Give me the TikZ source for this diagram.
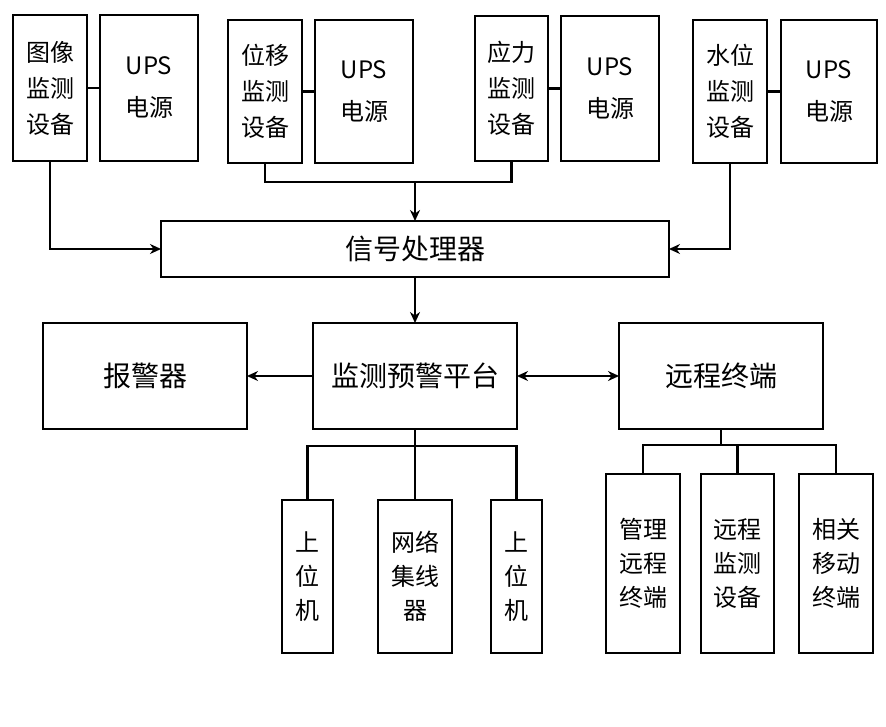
\documentclass[tikz,border=0pt]{standalone}
\usepackage{fontspec}
\newfontfamily\cjk{Noto Sans CJK SC}
\usetikzlibrary{arrows.meta}
\tikzset{
  box/.style={draw, line width=1.8pt, inner sep=0pt, outer sep=0pt, align=center,
    font=\cjk\fontsize{24}{36}\selectfont},
  bigtext/.style={font=\cjk\fontsize{28}{34}\selectfont},
  lowtext/.style={font=\cjk\fontsize{24}{34}\selectfont},
  conn/.style={line width=2.6pt},
  arr/.style={conn, -{Stealth[length=11pt,width=10pt]}},
  darr/.style={conn, {Stealth[length=11pt,width=10pt]}-{Stealth[length=11pt,width=10pt]}}
}
\newcommand{\boxat}[6]{% name, x1, y1, x2, y2, options
  \node[box, minimum width={#4-#2}, minimum height={#5-#3}, #6] (#1) at ({(#2+#4)/2},{(#3+#5)/2})}
\begin{document}
\begin{tikzpicture}[x=1pt,y=-1pt]
\useasboundingbox (0,0) rectangle (886,727);
% top row
\boxat{devA}{13}{15}{87}{161}{} {图像\\监测\\设备};
\boxat{upsA}{100}{15}{198}{161}{font=\cjk\fontsize{24}{42}\selectfont} {UPS\\电源};
\boxat{devB}{228}{20}{302}{163}{} {位移\\监测\\设备};
\boxat{upsB}{315}{20}{413}{163}{font=\cjk\fontsize{24}{42}\selectfont} {UPS\\电源};
\boxat{devC}{475}{16}{548}{161}{} {应力\\监测\\设备};
\boxat{upsC}{561}{16}{659}{161}{font=\cjk\fontsize{24}{42}\selectfont} {UPS\\电源};
\boxat{devD}{693}{20}{767}{163}{} {水位\\监测\\设备};
\boxat{upsD}{781}{20}{877}{163}{font=\cjk\fontsize{24}{42}\selectfont} {UPS\\电源};
% signal processor
\boxat{proc}{161}{221}{669}{277}{bigtext} {信号处理器};
% middle row
\boxat{alarm}{43}{323}{247}{429}{bigtext} {报警器};
\boxat{plat}{313}{323}{517}{429}{bigtext} {监测预警平台};
\boxat{remote}{619}{323}{823}{429}{bigtext} {远程终端};
% bottom left group
\boxat{pcA}{282}{500}{333}{653}{lowtext} {上\\位\\机};
\boxat{hub}{378}{500}{452}{653}{lowtext} {网络\\集线\\器};
\boxat{pcB}{491}{500}{542}{653}{lowtext} {上\\位\\机};
% bottom right group
\boxat{tA}{606}{474}{680}{653}{lowtext} {管理\\远程\\终端};
\boxat{tB}{701}{474}{774}{653}{lowtext} {远程\\监测\\设备};
\boxat{tC}{799}{474}{873}{653}{lowtext} {相关\\移动\\终端};
% device to UPS
\draw[conn] (devA.east) -- (upsA.west);
\draw[conn] (devB.east) -- (upsB.west);
\draw[conn] (devC.east) -- (upsC.west);
\draw[conn] (devD.east) -- (upsD.west);
% devices to processor
\draw[arr] (devA.south) |- (proc.west);
\draw[arr] (devD.south) |- (proc.east);
\coordinate (j1) at (415,182);
\draw[conn] (devB.south) |- (j1) -| (devC.south);
\draw[arr] (j1) -- (proc.north);
% processor to platform
\draw[arr] (proc.south) -- (plat.north);
\draw[arr] (plat.west) -- (alarm.east);
\draw[darr] (plat.east) -- (remote.west);
% platform to bottom
\coordinate (j2) at (415,446);
\draw[conn] (plat.south) -- (j2);
\draw[conn] (pcA.north) |- (j2) -| (pcB.north);
\draw[conn] (j2) -- (hub.north);
% remote to bottom
\coordinate (j3) at (721,445);
\draw[conn] (remote.south -| j3) -- (j3);
\draw[conn] (tA.north) |- (j3) -| (tC.north);
\draw[conn] (tB.north) -- (tB.north |- j3);
\end{tikzpicture}
\end{document}
